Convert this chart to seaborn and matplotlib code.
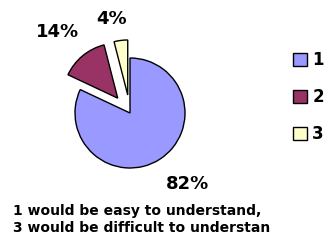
import matplotlib
matplotlib.use('Agg')
import matplotlib.pyplot as plt
import seaborn as sns

# data
categories = ['1', '2', '3']
shares = [82, 14, 4]
colors = ['#9999FF', '#993366', '#FFFFCC']
caption = ['1 would be easy to understand,', '3 would be difficult to understan']

sns.set_theme(style='white')
plt.rcParams['font.family'] = ['DejaVu Sans']
plt.rcParams['text.color'] = 'black'

W, H = 331, 242
fig = plt.figure(figsize=(W / 100, H / 100), dpi=100)
fig.patch.set_facecolor('white')

# pie axes: centre (130, 113) px, radius 55 px
R = 55
cx, cy = 130, H - 113
half = 1.25 * R
ax = fig.add_axes([(cx - half) / W, (cy - half) / H, 2 * half / W, 2 * half / H])

wedges, _ = ax.pie(shares, colors=colors, startangle=90, counterclock=False,
                   explode=[0, 0.35, 0.33],
                   wedgeprops=dict(edgecolor='black', linewidth=1))
ax.set_xlim(-1.25, 1.25)
ax.set_ylim(-1.25, 1.25)
ax.set_aspect('equal')
ax.axis('off')

# percentage labels
label_pos = [(1.05, -1.29), (-1.31, 1.47), (-0.33, 1.71)]
for v, (x, y) in zip(shares, label_pos):
    ax.text(x, y, f'{v}%', ha='center', va='center', fontsize=13,
            fontweight='bold', color='black', clip_on=False)

leg = fig.legend(wedges, categories, loc='upper left',
                 bbox_to_anchor=(293 / W, 1 - 51 / H), frameon=False,
                 borderpad=0, borderaxespad=0,
                 handlelength=0.85, handleheight=0.85, handletextpad=0.3,
                 labelspacing=1.15, prop=dict(size=12, weight='bold'))
for t in leg.get_texts():
    t.set_color('black')

for i, line in enumerate(caption):
    fig.text(13 / W, 1 - (211 + 17 * i) / H, line, ha='left', va='center',
             fontsize=10, fontweight='bold', color='black')

fig.savefig('out.png', dpi=100)
